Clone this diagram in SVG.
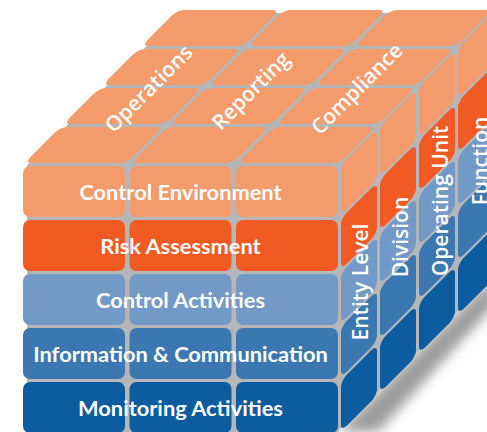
<svg xmlns="http://www.w3.org/2000/svg" width="487" height="432" viewBox="0 0 487 432">
<defs>
<style>
.lo{fill:#F49B6C}.do{fill:#F15A22}.lb{fill:#7399C6}.mb{fill:#3B78B1}.db{fill:#0D5C9F}
.front{font-family:Lato,"Liberation Sans",sans-serif;font-weight:700;font-size:21.8px;fill:#fff;text-anchor:middle}
.iso{font-family:"Open Sans","Liberation Sans",sans-serif;font-weight:600;font-size:21px;fill:#fff;text-anchor:middle}
</style>
<filter id="blur" x="-20%" y="-20%" width="140%" height="140%"><feGaussianBlur stdDeviation="6"/></filter>
</defs>
<rect width="487" height="432" fill="#fff"/>
<polygon points="338,432 494,276 494,306 378,432" fill="#8c8c8c" opacity="0.85" filter="url(#blur)"/>
<polygon points="27,432 27,165 180,13 487,13 487,282 339,430 339,432" fill="#B4B6B8"/>
<g id="top-face" transform="matrix(1,0,1,-1,0,164.5)">
<g class="lo">
<rect x="23" y="1.5" width="102" height="36" rx="6"/><rect x="129.5" y="1.5" width="102" height="36" rx="6"/><rect x="236" y="1.5" width="102" height="36" rx="6"/>
<rect x="23" y="40.5" width="102" height="36" rx="6"/><rect x="129.5" y="40.5" width="102" height="36" rx="6"/><rect x="236" y="40.5" width="102" height="36" rx="6"/>
<rect x="23" y="79.5" width="102" height="36" rx="6"/><rect x="129.5" y="79.5" width="102" height="36" rx="6"/><rect x="236" y="79.5" width="102" height="36" rx="6"/>
<rect x="23" y="118.5" width="102" height="36" rx="6"/><rect x="129.5" y="118.5" width="102" height="36" rx="6"/><rect x="236" y="118.5" width="102" height="36" rx="6"/>
</g>
</g>
<g id="side-face" transform="matrix(1,-1,0,1,339.5,0)">
<g class="lo"><rect x="1.5" y="166" width="36" height="51" rx="6"/><rect x="40.5" y="166" width="36" height="51" rx="6"/><rect x="79.5" y="166" width="36" height="51" rx="6"/><rect x="118.5" y="166" width="36" height="51" rx="6"/></g>
<g class="do"><rect x="1.5" y="220" width="36" height="51" rx="6"/><rect x="40.5" y="220" width="36" height="51" rx="6"/><rect x="79.5" y="220" width="36" height="51" rx="6"/><rect x="118.5" y="220" width="36" height="51" rx="6"/></g>
<g class="lb"><rect x="1.5" y="274" width="36" height="51" rx="6"/><rect x="40.5" y="274" width="36" height="51" rx="6"/><rect x="79.5" y="274" width="36" height="51" rx="6"/><rect x="118.5" y="274" width="36" height="51" rx="6"/></g>
<g class="mb"><rect x="1.5" y="328" width="36" height="51" rx="6"/><rect x="40.5" y="328" width="36" height="51" rx="6"/><rect x="79.5" y="328" width="36" height="51" rx="6"/><rect x="118.5" y="328" width="36" height="51" rx="6"/></g>
<g class="db"><rect x="1.5" y="382" width="36" height="51" rx="6"/><rect x="40.5" y="382" width="36" height="51" rx="6"/><rect x="79.5" y="382" width="36" height="51" rx="6"/><rect x="118.5" y="382" width="36" height="51" rx="6"/></g>
</g>
<g id="control-environment">
<g class="lo"><rect x="23" y="166" width="102" height="51" rx="7"/><rect x="129.5" y="166" width="102" height="51" rx="7"/><rect x="236" y="166" width="102" height="51" rx="7"/></g>
<text class="front" x="180.5" y="200">Control Environment</text>
</g>
<g id="risk-assessment">
<g class="do"><rect x="23" y="220" width="102" height="51" rx="7"/><rect x="129.5" y="220" width="102" height="51" rx="7"/><rect x="236" y="220" width="102" height="51" rx="7"/></g>
<text class="front" x="180.5" y="254">Risk Assessment</text>
</g>
<g id="control-activities">
<g class="lb"><rect x="23" y="274" width="102" height="51" rx="7"/><rect x="129.5" y="274" width="102" height="51" rx="7"/><rect x="236" y="274" width="102" height="51" rx="7"/></g>
<text class="front" x="180.5" y="308">Control Activities</text>
</g>
<g id="information-communication">
<g class="mb"><rect x="23" y="328" width="102" height="51" rx="7"/><rect x="129.5" y="328" width="102" height="51" rx="7"/><rect x="236" y="328" width="102" height="51" rx="7"/></g>
<text class="front" x="180.5" y="362">Information &amp; Communication</text>
</g>
<g id="monitoring-activities">
<g class="db"><rect x="23" y="382" width="102" height="51" rx="7"/><rect x="129.5" y="382" width="102" height="51" rx="7"/><rect x="236" y="382" width="102" height="51" rx="7"/></g>
<text class="front" x="180.5" y="416">Monitoring Activities</text>
</g>
<g id="operations"><text class="iso" transform="translate(149,89) rotate(-45)" x="0" y="7">Operations</text></g>
<g id="reporting"><text class="iso" transform="translate(251,91) rotate(-45)" x="0" y="7">Reporting</text></g>
<g id="compliance"><text class="iso" transform="translate(357,89) rotate(-45)" x="0" y="7">Compliance</text></g>
<g id="entity-level"><text class="iso" transform="translate(360,282) rotate(-90)" x="0" y="7.5">Entity Level</text></g>
<g id="division"><text class="iso" transform="translate(400,237) rotate(-90)" x="0" y="7.5">Division</text></g>
<g id="operating-unit"><text class="iso" transform="translate(440,201) rotate(-90)" x="0" y="7.5">Operating Unit</text></g>
<g id="function"><text class="iso" transform="translate(480,161) rotate(-90)" x="0" y="7.5">Function</text></g>
</svg>
